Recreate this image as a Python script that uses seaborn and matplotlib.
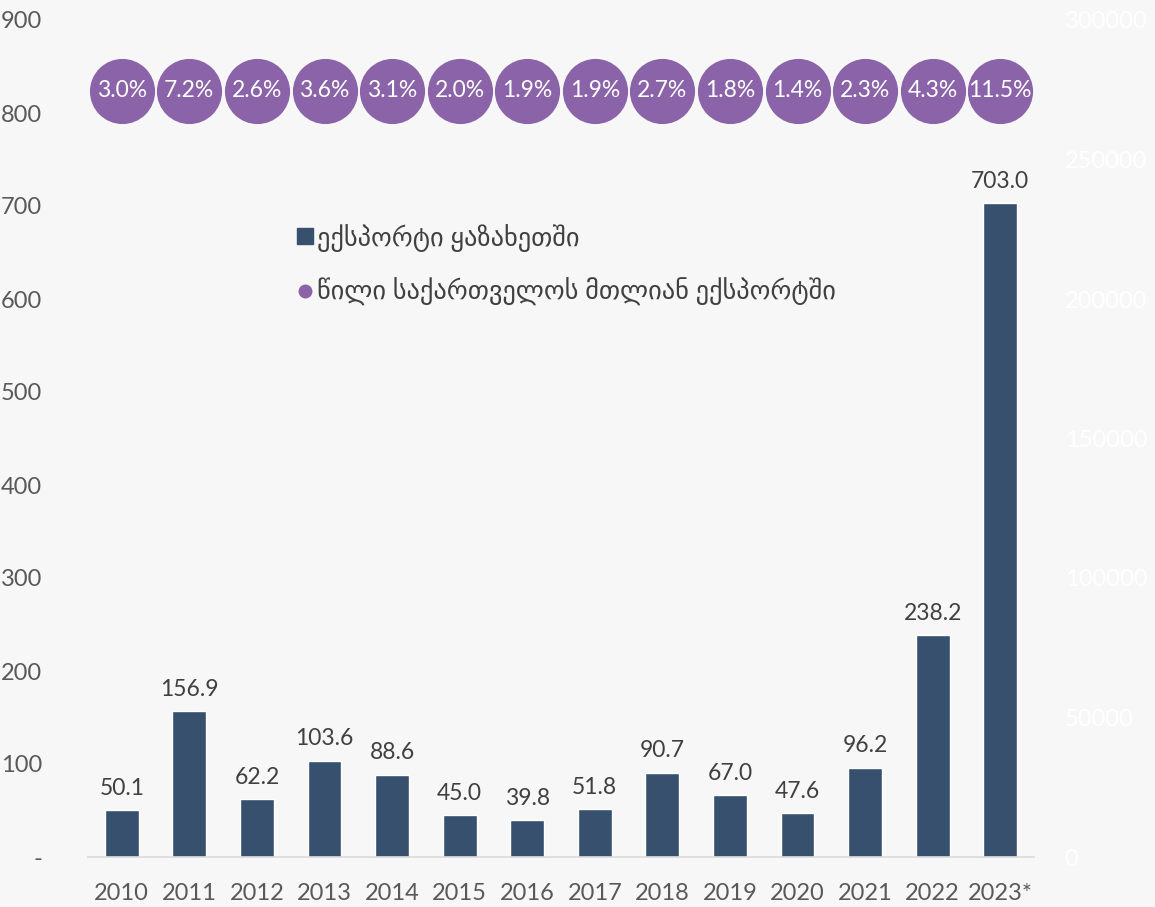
import matplotlib
matplotlib.use("Agg")
import matplotlib.pyplot as plt
import seaborn as sns
import pandas as pd
from matplotlib.lines import Line2D

# data
years = ["2010", "2011", "2012", "2013", "2014", "2015", "2016",
         "2017", "2018", "2019", "2020", "2021", "2022", "2023*"]
export_kz = [50.1, 156.9, 62.2, 103.6, 88.6, 45.0, 39.8,
             51.8, 90.7, 67.0, 47.6, 96.2, 238.2, 703.0]
share_pct = [3.0, 7.2, 2.6, 3.6, 3.1, 2.0, 1.9,
             1.9, 2.7, 1.8, 1.4, 2.3, 4.3, 11.5]
left_ticks = [0, 100, 200, 300, 400, 500, 600, 700, 800, 900]
right_ticks = [0, 50000, 100000, 150000, 200000, 250000, 300000]
legend_labels = ["ექსპორტი ყაზახეთში", "წილი საქართველოს მთლიან ექსპორტში"]

bar_color = "#36506e"
circle_color = "#8b63a8"
bg = "#f7f7f7"
tick_color = "#595959"
label_color = "#404040"

sns.set_style("white")
plt.rcParams["font.family"] = ["Lato", "DejaVu Sans"]

df = pd.DataFrame({"year": years, "value": export_kz})

fig = plt.figure(figsize=(11.55, 9.07), dpi=100, facecolor=bg)
ax = fig.add_axes([88 / 1155, 1 - 857 / 907, (1034 - 88) / 1155, (857 - 20) / 907])
ax.set_facecolor(bg)

sns.barplot(data=df, x="year", y="value", color=bar_color, width=0.5,
            saturation=1, ax=ax, zorder=2)

# value labels above bars
for i, v in enumerate(export_kz):
    ax.text(i, v + 12, f"{v:.1f}", ha="center", va="bottom",
            fontsize=16.5, color=label_color)

# share circles along the top
circle_y = 824
ax.scatter(range(len(years)), [circle_y] * len(years), s=2200,
           color=circle_color, zorder=3, linewidths=0)
for i, p in enumerate(share_pct):
    ax.text(i, circle_y, f"{p:.1f}%", ha="center", va="center",
            fontsize=16.5, color="white", zorder=4)

ax.set_xlim(-0.5, 13.5)
ax.set_ylim(0, 900)
ax.set_yticks(left_ticks)
ax.set_yticklabels(["-"] + [str(t) for t in left_ticks[1:]])
ax.set_xlabel("")
ax.set_ylabel("")
ax.tick_params(axis="both", length=0, labelsize=17, colors=tick_color)
ax.tick_params(axis="y", pad=33)
ax.tick_params(axis="x", pad=19)
for s in ["top", "right", "left"]:
    ax.spines[s].set_visible(False)
ax.spines["bottom"].set_color("#d9d9d9")
ax.spines["bottom"].set_linewidth(1.2)

# faint secondary axis on the right
ax2 = ax.twinx()
ax2.set_ylim(0, 300000)
ax2.set_yticks(right_ticks)
ax2.tick_params(axis="y", length=0, labelsize=17, colors="#ffffff", pad=22)
for s in ax2.spines.values():
    s.set_visible(False)

handles = [
    Line2D([], [], marker="s", linestyle="", markersize=12, color=bar_color),
    Line2D([], [], marker="o", linestyle="", markersize=9, color=circle_color),
]
fig.legend(handles, legend_labels, loc="upper left",
           bbox_to_anchor=(272 / 1155, 1 - 200 / 907), frameon=False,
           fontsize=19, labelcolor=label_color, handletextpad=0.1,
           handlelength=0.7, labelspacing=1.0)

fig.savefig("out.png", dpi=100, facecolor=bg)
